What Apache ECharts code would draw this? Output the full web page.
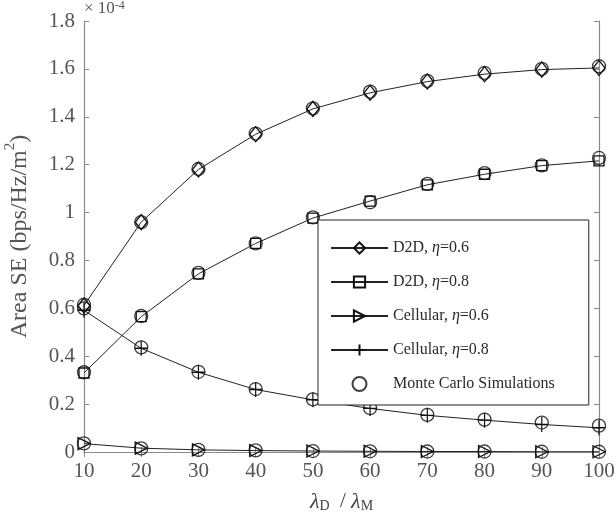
<!DOCTYPE html>
<html>
<head>
<meta charset="utf-8">
<script src="https://cdn.jsdelivr.net/npm/echarts@6/dist/echarts.min.js"></script>
<style>
html,body{margin:0;padding:0;background:#fff;}
#chart{width:616px;height:516px;}
</style>
</head>
<body>
<div id="chart"></div>
<script>
// lambda_D / lambda_M
var xValues = [10, 20, 30, 40, 50, 60, 70, 80, 90, 100];
// analytical curves, x 1e-4
var d2d06 = [0.612, 0.960, 1.180, 1.327, 1.433, 1.500, 1.547, 1.578, 1.597, 1.604];
var d2d08 = [0.330, 0.565, 0.744, 0.871, 0.977, 1.048, 1.116, 1.160, 1.196, 1.216];
var cell06 = [0.035, 0.016, 0.009, 0.006, 0.004, 0.003, 0.002, 0.002, 0.001, 0.001];
var cell08 = [0.592, 0.433, 0.333, 0.261, 0.218, 0.182, 0.153, 0.133, 0.115, 0.101];
// monte carlo points
var mcD2d06 = [0.615, 0.960, 1.182, 1.330, 1.435, 1.505, 1.550, 1.583, 1.600, 1.611];
var mcD2d08 = [0.333, 0.568, 0.748, 0.871, 0.980, 1.043, 1.120, 1.165, 1.197, 1.228];
var mcCell06 = [0.036, 0.015, 0.009, 0.007, 0.004, 0.003, 0.002, 0.002, 0.001, 0.001];
var mcCell08 = [0.600, 0.437, 0.335, 0.263, 0.220, 0.183, 0.155, 0.135, 0.123, 0.110];
var yTicks = [0, 0.2, 0.4, 0.6, 0.8, 1, 1.2, 1.4, 1.6, 1.8];

var names = ['D2D, η=0.6', 'D2D, η=0.8', 'Cellular, η=0.6', 'Cellular, η=0.8', 'Monte Carlo Simulations'];
var symbols = ['diamond', 'rect', 'path://M0,0L10,5L0,10Z', 'path://M5,0L5,10M0,5L10,5'];
var symSizes = [[12,15], 10, [12,12], [13,15]];
var curves = [d2d06, d2d08, cell06, cell08];
var mcSets = [mcD2d06, mcD2d08, mcCell06, mcCell08];

function pairs(ys){
	var out = [];
	for(var i=0;i<xValues.length;i++){ out.push([xValues[i], ys[i]]); }
	return out;
}

var FONT = '"Liberation Serif", "DejaVu Serif", serif';
var series = [];
for(var k=0;k<curves.length;k++){
	series.push({
		name: names[k],
		type: 'line',
		data: pairs(curves[k]),
		symbol: symbols[k],
		symbolSize: symSizes[k],
		showAllSymbol: true,
		lineStyle: {color:'#222', width:1},
		itemStyle: {color:'transparent', borderColor:'#111', borderWidth:1.3},
		z: 2
	});
}
var mcData = [];
for(var m=0;m<mcSets.length;m++){ mcData = mcData.concat(pairs(mcSets[m])); }
series.push({
	name: names[4],
	type: 'scatter',
	data: mcData,
	symbol: 'circle',
	symbolSize: 13,
	itemStyle: {color:'transparent', borderColor:'#111', borderWidth:1.3},
	z: 3
});

var axisLine = {show:true, lineStyle:{color:'#8a8a8a', width:1.2}};
var tick = {show:true, inside:true, length:5, lineStyle:{color:'#8a8a8a'}};

var option = {
	animation: false,
	backgroundColor: '#fff',
	grid: {left:84, right:17, top:21, bottom:64, containLabel:false, outerBoundsMode:'none'},
	xAxis: [
		{
			type:'value', min:10, max:100, interval:10,
			axisLine: axisLine, axisTick: tick, splitLine:{show:false},
			axisLabel: {color:'#555', fontFamily:FONT, fontSize:21, margin:9},
			name: '{l|λ}{s|D}  / {l|λ}{s|M}',
			nameLocation: 'middle', nameGap: 37,
			nameTextStyle: {
				color:'#444', fontFamily:FONT, fontSize:21,
				rich: {
					l: {fontStyle:'italic', fontSize:22, fontFamily:FONT, color:'#444', verticalAlign:'bottom', lineHeight:24},
					s: {fontSize:14, fontFamily:FONT, color:'#444', verticalAlign:'bottom', lineHeight:17}
				}
			}
		},
		{
			type:'value', position:'top', min:10, max:100, interval:10,
			axisLine: axisLine, axisTick: tick, axisLabel:{show:false}, splitLine:{show:false}
		}
	],
	yAxis: [
		{
			type:'value', min:0, max:1.8, interval:0.2,
			axisLine: axisLine, axisTick: tick, splitLine:{show:false},
			axisLabel: {color:'#555', fontFamily:FONT, fontSize:21, margin:9,
				formatter: function(v){ return String(yTicks[Math.round(v/0.2)]); }},
			name: 'Area SE (bps/Hz/m{sup|2})',
			nameLocation: 'middle', nameRotate: 90, nameGap: 47,
			nameTextStyle: {
				color:'#555', fontFamily:FONT, fontSize:24,
				rich: {sup: {fontSize:15, fontFamily:FONT, color:'#555', verticalAlign:'top', lineHeight:34}}
			}
		},
		{
			type:'value', position:'right', min:0, max:1.8, interval:0.2,
			axisLine: axisLine, axisTick: tick, axisLabel:{show:false}, splitLine:{show:false}
		}
	],
	legend: {
		data: names,
		orient: 'vertical',
		left: 318, top: 220,
		padding: [20, 34, 13, 12],
		itemWidth: 57, itemHeight: 14, itemGap: 18,
		backgroundColor: '#fff',
		borderColor: '#222', borderWidth: 1,
		z: 6,
		textStyle: {
			color:'#2a2a2a', fontFamily:FONT, fontSize:16,
			rich: {i: {fontStyle:'italic', fontFamily:FONT, fontSize:16, color:'#2a2a2a'}}
		},
		formatter: function(name){ return name.replace('η', '{i|η}'); }
	},
	graphic: [
		{
			type: 'text', left: 84, top: 0,
			style: {
				text: '× 10{sup|-4}',
				fill: '#555', font: '17px ' + FONT,
				rich: {sup: {fontSize:12, fontFamily:FONT, fill:'#555', verticalAlign:'top', lineHeight:16}}
			}
		}
	],
	series: series
};

var chart = echarts.init(document.getElementById('chart'));
chart.setOption(option);
</script>
</body>
</html>
